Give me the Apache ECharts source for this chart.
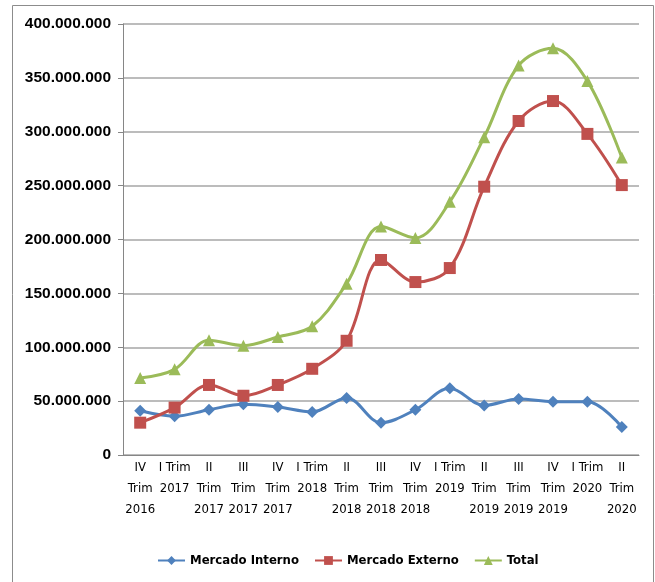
<!DOCTYPE html>
<html>
<head>
<meta charset="utf-8">
<script src="https://cdn.jsdelivr.net/npm/echarts@6/dist/echarts.min.js"></script>
<style>
  html, body { margin: 0; padding: 0; background: #fff; }
  #chart { width: 655px; height: 582px; }
</style>
</head>
<body>
<div id="chart"></div>
<script>
// trimestres (etiquetas del eje x, ya partidas en líneas)
const categorias = [
  'IV\nTrim\n2016', 'I Trim\n2017', 'II\nTrim\n2017', 'III\nTrim\n2017', 'IV\nTrim\n2017',
  'I Trim\n2018', 'II\nTrim\n2018', 'III\nTrim\n2018', 'IV\nTrim\n2018', 'I Trim\n2019',
  'II\nTrim\n2019', 'III\nTrim\n2019', 'IV\nTrim\n2019', 'I Trim\n2020', 'II\nTrim\n2020'
]
// valores
const mercadoInterno = [
  41000000, 36000000, 42000000, 47000000, 44500000, 40000000, 53000000, 30000000,
  42000000, 62000000, 46000000, 52000000, 49500000, 49500000, 26000000
]
const mercadoExterno = [
  30000000, 44000000, 65000000, 55000000, 65000000, 80000000, 106000000, 181000000,
  160500000, 173500000, 249000000, 310000000, 328500000, 298000000, 250500000
]
const total = [
  71500000, 79500000, 106500000, 101500000, 109500000, 119500000, 159000000, 212000000,
  201500000, 235000000, 295000000, 361500000, 377500000, 347000000, 276000000
]
const ticksY = { min: 0, max: 400000000, interval: 50000000 }

const chart = echarts.init(document.getElementById('chart'))

// separador de miles con punto
function miles (v) {
  return String(v).replace(/\B(?=(\d{3})+(?!\d))/g, '.')
}

const narrow = '"Liberation Sans Narrow", "Arial Narrow", "DejaVu Sans Condensed", sans-serif'

function serie (name, data, color, symbol, size) {
  return {
    name: name,
    type: 'line',
    data: data,
    smooth: 0.35,
    symbol: symbol,
    symbolSize: size,
    lineStyle: { color: color, width: 3 },
    itemStyle: { color: color },
    z: 3
  }
}

chart.setOption({
  animation: false,
  graphic: [
    { // marco exterior
      type: 'rect',
      shape: { x: 12.5, y: 5.5, width: 641, height: 600 },
      style: { fill: null, stroke: '#8c8c8c', lineWidth: 1 },
      silent: true
    }
  ],
  grid: { left: 123, right: 16, top: 24, bottom: 127 },
  legend: {
    left: 152,
    top: 549,
    itemWidth: 27,
    itemHeight: 11,
    itemGap: 15,
    textStyle: { fontFamily: narrow, fontWeight: 'bold', fontSize: 13, color: '#000' },
    data: ['Mercado Interno', 'Mercado Externo', 'Total']
  },
  xAxis: {
    type: 'category',
    data: categorias,
    boundaryGap: true,
    axisLine: { lineStyle: { color: '#868686', width: 1 } },
    axisTick: { length: 5, lineStyle: { color: '#868686' } },
    axisLabel: {
      interval: 0,
      margin: 2,
      fontFamily: narrow,
      fontSize: 13,
      lineHeight: 21,
      color: '#000',
      verticalAlign: 'top'
    }
  },
  yAxis: {
    type: 'value',
    min: ticksY.min,
    max: ticksY.max,
    interval: ticksY.interval,
    axisLine: { show: true, lineStyle: { color: '#868686' } },
    axisTick: { show: true, length: 5, lineStyle: { color: '#868686' } },
    splitLine: { lineStyle: { color: '#a6a6a6', width: 1.5 } },
    axisLabel: {
      margin: 12,
      fontFamily: '"Liberation Sans", Arial, sans-serif',
      fontWeight: 'bold',
      fontSize: 15.5,
      color: '#000',
      formatter: miles
    }
  },
  series: [
    serie('Mercado Interno', mercadoInterno, '#4f81bd', 'diamond', 12),
    serie('Mercado Externo', mercadoExterno, '#c0504d', 'rect', 12),
    serie('Total', total, '#9bbb59', 'triangle', 12)
  ]
})
</script>
</body>
</html>
